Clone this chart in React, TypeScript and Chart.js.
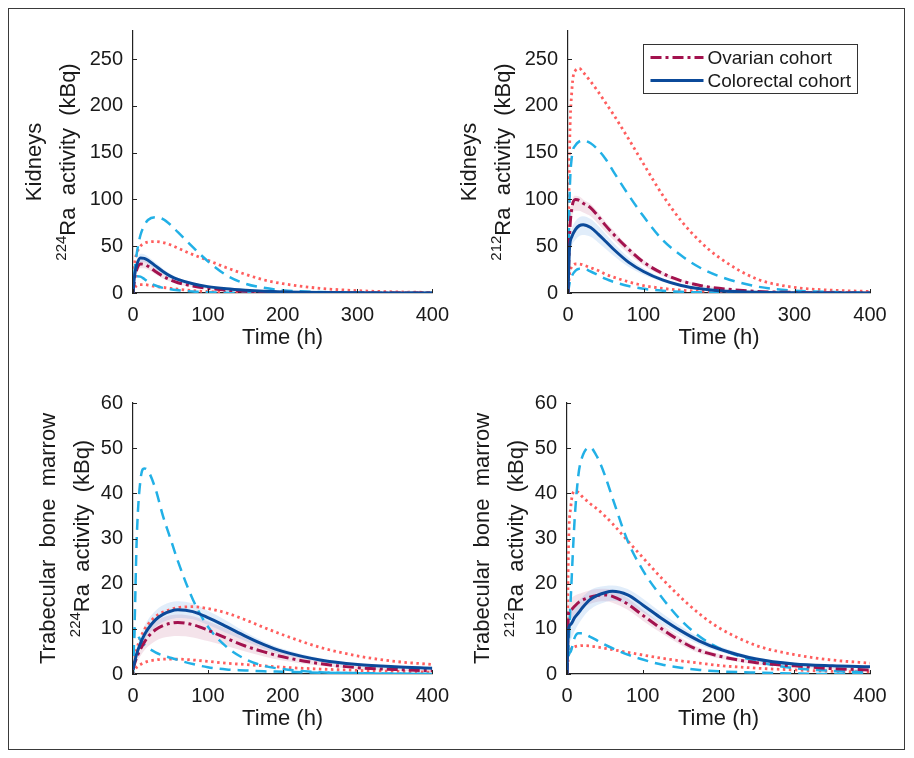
import React, { useEffect, useRef } from 'react';
import { Chart, registerables } from 'chart.js';

Chart.register(...registerables);

const FAMILY = "'Liberation Sans', Arial, sans-serif";
const TEXT = '#1a1a1a';
const AXIS = '#222222';
const OV = '#A3124E';
const CR = '#0B4A9A';
const CYAN = '#22B0E6';
const RED = '#FF5E5E';
const OV_BAND = 'rgba(170, 40, 95, 0.13)';
const CR_BAND = 'rgba(70, 140, 225, 0.16)';

// time points (h)
const timeH = [0, 2, 5, 10, 15, 20, 30, 40, 50, 60, 80, 100, 125, 150, 175, 200, 250, 300, 350, 400];

// Kidneys, 224Ra
const raKidOvMean = [0, 14, 25, 31, 30.5, 28.5, 23, 18, 14, 11, 7.5, 5, 3, 1.8, 1.1, 0.7, 0.25, 0.1, 0, 0];
const raKidOvLow = [0, 11, 21, 26.5, 26.5, 25, 20, 15.5, 12, 9.3, 6.3, 4.2, 2.5, 1.5, 0.9, 0.55, 0.2, 0.08, 0, 0];
const raKidOvHigh = [0, 17, 29, 35.5, 35, 32.5, 26.5, 20.5, 16, 12.7, 8.7, 5.8, 3.5, 2.1, 1.3, 0.85, 0.3, 0.12, 0, 0];
const raKidCrMean = [0, 18, 30, 37.5, 37, 35, 29, 23, 18, 14.5, 9.8, 6.8, 4.5, 3, 1.9, 1.2, 0.5, 0.2, 0.1, 0];
const raKidCrLow = [0, 15, 26, 33, 33, 31, 25.5, 20, 15.8, 12.6, 8.5, 5.9, 3.9, 2.6, 1.6, 1, 0.4, 0.15, 0.05, 0];
const raKidCrHigh = [0, 21, 34, 42, 41.5, 39, 32.5, 26, 20.3, 16.4, 11.2, 7.8, 5.2, 3.5, 2.2, 1.4, 0.6, 0.25, 0.1, 0];
const raKidCyanHigh = [0, 22, 42, 62, 72, 78, 81, 79, 73, 65, 49, 34, 19, 10, 5.5, 3, 1, 0.4, 0.1, 0];
const raKidCyanLow = [0, 14, 18, 17.5, 15, 12, 8, 5.5, 4, 3, 1.6, 0.9, 0.4, 0.2, 0.1, 0, 0, 0, 0, 0];
const raKidRedHigh = [0, 30, 42, 50, 53, 54.5, 55, 54, 51.5, 48, 41, 35, 27, 20, 14, 10, 5, 2.5, 1.2, 0.6];
const raKidRedLow = [0, 5, 8, 9, 9, 8.5, 7, 6, 5, 4, 2.5, 1.5, 0.8, 0.4, 0.2, 0.1, 0, 0, 0, 0];

// Kidneys, 212Pb
const pbKidOvMean = [0, 60, 90, 100, 99, 96, 91, 82, 72, 63, 47, 33, 21, 13, 8, 5, 1.7, 0.6, 0.2, 0];
const pbKidOvLow = [0, 50, 80, 88, 88, 86, 82, 74, 65, 57, 42, 29.5, 18.5, 11.5, 7, 4.4, 1.5, 0.5, 0.15, 0];
const pbKidOvHigh = [0, 68, 97, 104, 103, 100, 95, 86, 76, 67, 50, 35.5, 23, 14.5, 9, 5.6, 1.9, 0.7, 0.25, 0];
const pbKidCrMean = [0, 48, 60, 68, 72, 73, 70, 63, 55, 47, 33, 23, 14, 8, 4.5, 2.5, 0.8, 0.3, 0.1, 0];
const pbKidCrLow = [0, 38, 50, 57, 61, 62, 60, 54, 47, 40, 28, 19.5, 12, 6.8, 3.8, 2.1, 0.7, 0.25, 0.08, 0];
const pbKidCrHigh = [0, 56, 69, 77, 81, 82, 79, 72, 63, 54, 38, 26.5, 16, 9.2, 5.2, 2.9, 0.9, 0.35, 0.12, 0];
const pbKidCyanHigh = [0, 100, 145, 158, 162, 163, 160, 153, 143, 130, 105, 82, 57, 40, 27, 18, 7, 2.5, 1, 0.3];
const pbKidCyanLow = [0, 10, 18, 24, 26, 26, 23, 19, 15, 12, 7.5, 4.5, 2.5, 1.3, 0.7, 0.4, 0.1, 0, 0, 0];
const pbKidRedHigh = [0, 150, 215, 238, 240, 236, 226, 215, 203, 191, 165, 138, 105, 77, 55, 38, 15, 6, 3, 1.7];
const pbKidRedLow = [0, 20, 28, 31, 31, 30, 27, 24, 20, 17, 12, 8, 5, 3, 2, 1.2, 0.5, 0.2, 0.1, 0];

// Trabecular bone marrow, 224Ra
const raTbmOvMean = [1, 2.2, 3.7, 5.5, 7, 8.2, 9.8, 10.7, 11.2, 11.4, 10.9, 9.7, 7.9, 6.2, 4.9, 3.8, 2.3, 1.4, 1, 0.7];
const raTbmOvLow = [1, 1.6, 2.7, 4, 5.2, 6.1, 7.3, 8, 8.3, 8.4, 8.1, 7.3, 6.2, 5, 3.9, 3, 1.8, 1.1, 0.8, 0.5];
const raTbmOvHigh = [1, 2.8, 4.6, 6.8, 8.6, 9.9, 11.6, 12.5, 13, 13.2, 12.8, 11.7, 10, 8, 6.3, 4.8, 2.8, 1.8, 1.2, 0.9];
const raTbmCrMean = [1, 2.5, 4.5, 6.8, 8.6, 10, 12, 13.2, 13.9, 14.2, 13.8, 12.5, 10.5, 8.4, 6.5, 5, 3.1, 2.1, 1.6, 1.3];
const raTbmCrLow = [1, 2.2, 3.8, 5.8, 7.4, 8.6, 10.4, 11.5, 12.1, 12.4, 12.1, 10.9, 9.1, 7.3, 5.6, 4.3, 2.7, 1.8, 1.4, 1.1];
const raTbmCrHigh = [1, 3.5, 5.8, 8.4, 10.5, 12, 14, 15.2, 15.9, 16.1, 15.6, 14, 11.8, 9.3, 7.2, 5.6, 3.5, 2.4, 1.9, 1.5];
const raTbmCyanHigh = [0, 10, 30, 43, 45.5, 45, 41, 35, 30, 25, 16.5, 10.5, 6, 3.3, 1.8, 1.1, 0.4, 0.15, 0.05, 0];
const raTbmCyanLow = [0, 10, 9, 7.5, 6.5, 5.8, 4.8, 4.1, 3.6, 3.1, 2.2, 1.5, 1, 0.8, 0.6, 0.5, 0.3, 0.2, 0.1, 0.05];
const raTbmRedHigh = [1, 3, 5.5, 8, 9.8, 11, 12.7, 13.7, 14.3, 14.7, 14.9, 14.5, 13.5, 12, 10.3, 8.7, 5.9, 4, 2.8, 2.1];
const raTbmRedLow = [0, 0.8, 1.5, 2.1, 2.5, 2.8, 3.1, 3.3, 3.3, 3.3, 3.1, 2.8, 2.4, 2.1, 1.8, 1.5, 1.1, 0.8, 0.6, 0.4];

// Trabecular bone marrow, 212Pb
const pbTbmOvMean = [0, 13.5, 14.2, 15, 15.8, 16.3, 17, 17.4, 17.5, 17.2, 15.5, 13, 10, 7.3, 5.2, 4, 2.5, 1.8, 1.2, 0.9];
const pbTbmOvLow = [0, 11.5, 12.3, 13.2, 14, 14.6, 15.5, 16, 16.1, 15.8, 14.2, 11.8, 9, 6.5, 4.6, 3.5, 2.1, 1.5, 1, 0.7];
const pbTbmOvHigh = [0, 16, 16.8, 17.3, 17.7, 18, 18.5, 18.8, 18.9, 18.6, 16.8, 14.2, 11, 8.1, 5.8, 4.5, 2.9, 2.1, 1.4, 1.1];
const pbTbmCrMean = [0, 10, 11, 12.5, 13.5, 14.6, 16.4, 17.4, 18, 18.3, 17.5, 15.3, 12.3, 9.6, 7.3, 5.6, 3.3, 2.2, 1.8, 1.6];
const pbTbmCrLow = [0, 6, 7.5, 9.5, 11, 12.3, 14.2, 15.3, 15.9, 16.2, 15.6, 13.7, 11, 8.6, 6.5, 5, 2.9, 1.9, 1.5, 1.3];
const pbTbmCrHigh = [0, 13, 14, 15.3, 16.2, 17, 18.5, 19.2, 19.5, 19.6, 18.8, 16.7, 13.5, 10.6, 8.1, 6.2, 3.7, 2.5, 2.1, 1.9];
const pbTbmCyanHigh = [0, 6, 17, 34, 44, 48, 50.2, 48, 44, 39, 29.5, 23, 17, 12, 8.3, 5.8, 2.8, 1.3, 0.7, 0.4];
const pbTbmCyanLow = [0, 4, 5, 8, 9, 9, 8.3, 7.4, 6.5, 5.7, 4.3, 3.2, 2.1, 1.4, 0.9, 0.6, 0.3, 0.1, 0, 0];
const pbTbmRedHigh = [0, 28, 37, 40.5, 40.2, 39.3, 37.8, 36.5, 35, 33.3, 29.5, 25.8, 21.2, 17, 13.3, 10.3, 6.3, 4.3, 3.1, 2.4];
const pbTbmRedLow = [0, 4, 5.5, 6, 6.2, 6.3, 6.2, 6, 5.7, 5.4, 4.8, 4.2, 3.5, 2.9, 2.4, 1.9, 1.3, 0.9, 0.6, 0.45];

const xTicksStep = 100;
const xMax = 400;
const legendLabels = ['Ovarian cohort', 'Colorectal cohort'];

type Series = {
  ovMean: number[]; ovLow: number[]; ovHigh: number[];
  crMean: number[]; crLow: number[]; crHigh: number[];
  cyanHigh: number[]; cyanLow: number[]; redHigh: number[]; redLow: number[];
};

type Panel = {
  key: string;
  series: Series;
  yMax: number;
  yStep: number;
  organ: string;
  isotope: string;
  box: { left: number; top: number; w: number; h: number };
  yW: number;
  pad: { top: number; right: number; bottom: number; left: number };
  off1: number;
  off2: number;
  legend: boolean;
};

const panels: Panel[] = [
  {
    key: 'tl',
    series: { ovMean: raKidOvMean, ovLow: raKidOvLow, ovHigh: raKidOvHigh, crMean: raKidCrMean, crLow: raKidCrLow, crHigh: raKidCrHigh, cyanHigh: raKidCyanHigh, cyanLow: raKidCyanLow, redHigh: raKidRedHigh, redLow: raKidRedLow },
    yMax: 280, yStep: 50, organ: 'Kidneys', isotope: '224',
    box: { left: 0, top: 0, w: 450, h: 370 }, yW: 124,
    pad: { top: 12, right: 23, bottom: 28, left: 0 }, off1: 92, off2: 58, legend: false,
  },
  {
    key: 'tr',
    series: { ovMean: pbKidOvMean, ovLow: pbKidOvLow, ovHigh: pbKidOvHigh, crMean: pbKidCrMean, crLow: pbKidCrLow, crHigh: pbKidCrHigh, cyanHigh: pbKidCyanHigh, cyanLow: pbKidCyanLow, redHigh: pbKidRedHigh, redLow: pbKidRedLow },
    yMax: 280, yStep: 50, organ: 'Kidneys', isotope: '212',
    box: { left: 450, top: 0, w: 445, h: 370 }, yW: 109,
    pad: { top: 12, right: 34, bottom: 28, left: 0 }, off1: 92, off2: 58, legend: true,
  },
  {
    key: 'bl',
    series: { ovMean: raTbmOvMean, ovLow: raTbmOvLow, ovHigh: raTbmOvHigh, crMean: raTbmCrMean, crLow: raTbmCrLow, crHigh: raTbmCrHigh, cyanHigh: raTbmCyanHigh, cyanLow: raTbmCyanLow, redHigh: raTbmRedHigh, redLow: raTbmRedLow },
    yMax: 60, yStep: 10, organ: 'Trabecular  bone  marrow', isotope: '224',
    box: { left: 0, top: 370, w: 450, h: 369 }, yW: 124,
    pad: { top: 24, right: 23, bottom: 16, left: 0 }, off1: 78, off2: 44, legend: false,
  },
  {
    key: 'br',
    series: { ovMean: pbTbmOvMean, ovLow: pbTbmOvLow, ovHigh: pbTbmOvHigh, crMean: pbTbmCrMean, crLow: pbTbmCrLow, crHigh: pbTbmCrHigh, cyanHigh: pbTbmCyanHigh, cyanLow: pbTbmCyanLow, redHigh: pbTbmRedHigh, redLow: pbTbmRedLow },
    yMax: 60, yStep: 10, organ: 'Trabecular  bone  marrow', isotope: '212',
    box: { left: 450, top: 370, w: 445, h: 369 }, yW: 108,
    pad: { top: 24, right: 34, bottom: 16, left: 0 }, off1: 78, off2: 44, legend: false,
  },
];

const pts = (ys: number[]) => ys.map((y, i) => ({ x: timeH[i], y }));

function makePlugin(panel: Panel) {
  return {
    id: 'decor_' + panel.key,
    afterDraw(chart: any) {
      const { ctx, chartArea: ca, scales } = chart;
      ctx.save();
      // inward tick marks
      ctx.strokeStyle = AXIS;
      ctx.lineWidth = 1;
      ctx.beginPath();
      scales.x.ticks.forEach((t: any) => {
        const px = Math.round(scales.x.getPixelForValue(t.value)) + 0.5;
        ctx.moveTo(px, ca.bottom);
        ctx.lineTo(px, ca.bottom - 4);
      });
      scales.y.ticks.forEach((t: any) => {
        const py = Math.round(scales.y.getPixelForValue(t.value)) + 0.5;
        ctx.moveTo(ca.left, py);
        ctx.lineTo(ca.left + 4, py);
      });
      ctx.stroke();

      // y title (two lines, rotated, with superscript)
      const cy = (ca.top + ca.bottom) / 2;
      ctx.fillStyle = TEXT;
      ctx.textBaseline = 'alphabetic';
      ctx.save();
      ctx.translate(ca.left - panel.off1, cy);
      ctx.rotate(-Math.PI / 2);
      ctx.textAlign = 'center';
      ctx.font = `22px ${FAMILY}`;
      ctx.fillText(panel.organ, 0, 0);
      ctx.restore();

      ctx.save();
      ctx.translate(ca.left - panel.off2, cy);
      ctx.rotate(-Math.PI / 2);
      ctx.textAlign = 'left';
      const main = 'Ra  activity  (kBq)';
      ctx.font = `22px ${FAMILY}`;
      const wMain = ctx.measureText(main).width;
      ctx.font = `15px ${FAMILY}`;
      const wSup = ctx.measureText(panel.isotope).width;
      const x0 = -(wMain + wSup) / 2;
      ctx.fillText(panel.isotope, x0, -9);
      ctx.font = `22px ${FAMILY}`;
      ctx.fillText(main, x0 + wSup, 0);
      ctx.restore();

      if (panel.legend) {
        const bw = 214;
        const bh = 49;
        const bx = Math.round(ca.right - 13 - bw) + 0.5;
        const by = Math.round(ca.top + 13) + 0.5;
        ctx.fillStyle = '#ffffff';
        ctx.fillRect(bx, by, bw, bh);
        ctx.strokeStyle = '#333333';
        ctx.lineWidth = 1;
        ctx.strokeRect(bx, by, bw, bh);
        const rows = [
          { y: by + 13, color: OV, dash: [11, 4, 3, 4], text: legendLabels[0] },
          { y: by + 36, color: CR, dash: [], text: legendLabels[1] },
        ];
        rows.forEach((r) => {
          ctx.beginPath();
          ctx.setLineDash(r.dash);
          ctx.strokeStyle = r.color;
          ctx.lineWidth = 3;
          ctx.moveTo(bx + 7, r.y);
          ctx.lineTo(bx + 60, r.y);
          ctx.stroke();
          ctx.setLineDash([]);
          ctx.fillStyle = TEXT;
          ctx.font = `19px ${FAMILY}`;
          ctx.textAlign = 'left';
          ctx.textBaseline = 'middle';
          ctx.fillText(r.text, bx + 64, r.y + 1);
        });
      }
      ctx.restore();
    },
  };
}

function PanelChart({ panel }: { panel: Panel }) {
  const ref = useRef<HTMLCanvasElement | null>(null);
  useEffect(() => {
    if (!ref.current) return;
    const s = panel.series;
    const line = (label: string, data: number[], color: string, width: number, dash: number[]) => ({
      label,
      data: pts(data),
      borderColor: color,
      borderWidth: width,
      borderDash: dash,
      pointRadius: 0,
      fill: false,
      cubicInterpolationMode: 'monotone' as const,
    });
    const band = (label: string, data: number[], fill: any, bg: string) => ({
      label,
      data: pts(data),
      borderColor: 'rgba(0,0,0,0)',
      borderWidth: 0,
      pointRadius: 0,
      fill,
      backgroundColor: bg,
      cubicInterpolationMode: 'monotone' as const,
    });
    const datasets: any[] = [
      line('Colorectal cohort', s.crMean, CR, 3, []),
      line('Ovarian cohort', s.ovMean, OV, 3, [11, 4, 3, 4]),
      line('Colorectal range high', s.cyanHigh, CYAN, 2.5, [11, 7]),
      line('Colorectal range low', s.cyanLow, CYAN, 2.5, [11, 7]),
      line('Ovarian range high', s.redHigh, RED, 2.8, [2.5, 3.5]),
      line('Ovarian range low', s.redLow, RED, 2.8, [2.5, 3.5]),
      band('Colorectal CI low', s.crLow, false, CR_BAND),
      band('Colorectal CI high', s.crHigh, '-1', CR_BAND),
      band('Ovarian CI low', s.ovLow, false, OV_BAND),
      band('Ovarian CI high', s.ovHigh, '-1', OV_BAND),
    ];
    const chart = new Chart(ref.current, {
      type: 'line',
      data: { datasets },
      options: {
        responsive: false,
        animation: false,
        devicePixelRatio: 1,
        layout: { padding: panel.pad },
        plugins: { legend: { display: false }, tooltip: { enabled: false } },
        scales: {
          x: {
            type: 'linear',
            min: 0,
            max: xMax,
            grid: { display: false, drawTicks: false },
            border: { display: true, color: AXIS, width: 1.2 },
            ticks: {
              stepSize: xTicksStep,
              padding: 10,
              color: TEXT,
              font: { family: FAMILY, size: 20 },
              maxRotation: 0,
              autoSkip: false,
              includeBounds: false,
            },
            title: { display: true, text: 'Time (h)', color: TEXT, font: { family: FAMILY, size: 22 }, padding: 0 },
            afterFit: (sc: any) => { sc.height = 58; },
          },
          y: {
            type: 'linear',
            min: 0,
            max: panel.yMax,
            grid: { display: false, drawTicks: false },
            border: { display: true, color: AXIS, width: 1.2 },
            ticks: {
              stepSize: panel.yStep,
              padding: 10,
              color: TEXT,
              font: { family: FAMILY, size: 20 },
              autoSkip: false,
              includeBounds: false,
            },
            afterFit: (sc: any) => { sc.width = panel.yW; },
          },
        },
      } as any,
      plugins: [makePlugin(panel)],
    });
    return () => chart.destroy();
  }, [panel]);
  return (
    <canvas
      ref={ref}
      width={panel.box.w}
      height={panel.box.h}
      style={{ position: 'absolute', left: panel.box.left, top: panel.box.top, width: panel.box.w, height: panel.box.h }}
    />
  );
}

export default function App() {
  return (
    <div
      style={{
        position: 'relative',
        width: 897,
        height: 742,
        border: '1px solid #3a3a3a',
        boxSizing: 'border-box',
        background: '#ffffff',
        fontFamily: FAMILY,
      }}
    >
      {panels.map((p) => (
        <PanelChart key={p.key} panel={p} />
      ))}
    </div>
  );
}
